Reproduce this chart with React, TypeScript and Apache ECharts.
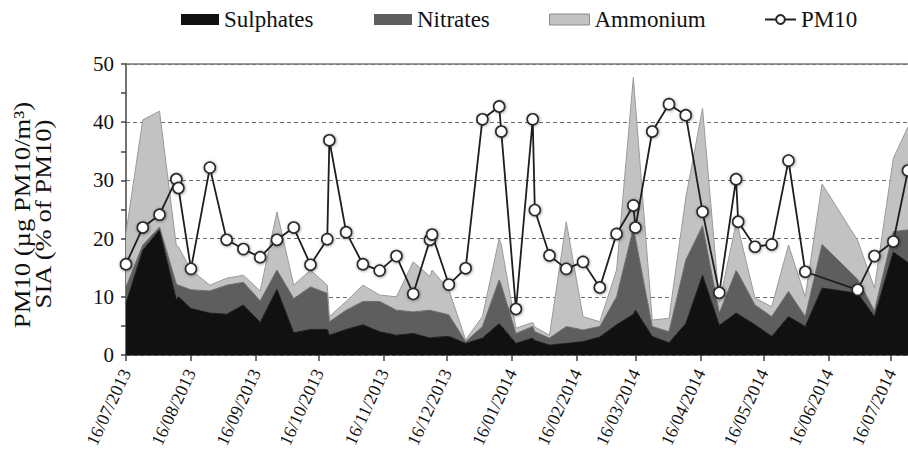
import React, { useEffect, useRef } from 'react';
import * as echarts from 'echarts';

const sampleDates = [
  '2013-07-16','2013-07-24','2013-08-01','2013-08-09','2013-08-10','2013-08-16','2013-08-25','2013-09-02','2013-09-10','2013-09-18',
  '2013-09-26','2013-10-04','2013-10-12','2013-10-20','2013-10-21','2013-10-29','2013-11-06','2013-11-14','2013-11-22','2013-11-30',
  '2013-12-08','2013-12-09','2013-12-17','2013-12-25','2014-01-02','2014-01-10','2014-01-11','2014-01-18','2014-01-26','2014-01-27',
  '2014-02-03','2014-02-11','2014-02-19','2014-02-27','2014-03-07','2014-03-15','2014-03-16','2014-03-24','2014-04-01','2014-04-09',
  '2014-04-17','2014-04-25','2014-05-03','2014-05-04','2014-05-12','2014-05-20','2014-05-28','2014-06-05','2014-06-13','2014-06-30',
  '2014-07-08','2014-07-17','2014-07-24'
];

const sulphates = [
  8.9, 18.0, 21.5, 9.5, 10.0, 8.0, 7.2, 7.0, 8.6, 5.6,
  11.3, 3.8, 4.4, 4.4, 3.4, 4.4, 5.2, 4.0, 3.4, 3.7,
  2.9, 3.0, 3.2, 2.0, 2.9, 5.4, 5.0, 2.0, 2.9, 2.5,
  1.7, 2.0, 2.3, 3.1, 5.2, 7.0, 7.7, 3.2, 2.1, 5.4,
  13.7, 5.1, 7.2, 7.0, 5.2, 3.2, 6.6, 4.9, 11.5, 10.6,
  6.6, 17.7, 15.9
];

const nitrates = [
  2.8, 0.9, 0.5, 2.7, 2.0, 3.2, 3.8, 5.0, 3.9, 3.7,
  3.3, 5.9, 7.3, 6.2, 2.3, 3.3, 4.0, 5.2, 4.3, 3.7,
  4.8, 4.6, 3.7, 0.3, 2.0, 7.5, 7.0, 1.7, 2.0, 1.5,
  1.2, 2.9, 2.0, 1.8, 4.8, 14.8, 12.3, 1.7, 1.9, 10.9,
  8.5, 2.1, 7.3, 7.0, 3.4, 3.4, 4.3, 1.7, 7.5, 2.4,
  1.0, 3.5, 5.6
];

const ammonium = [
  9.3, 21.5, 19.9, 6.6, 6.6, 3.4, 1.0, 1.2, 1.2, 1.7,
  10.0, 2.3, 2.9, 1.4, 0.9, 1.5, 2.8, 1.1, 2.3, 8.6,
  5.8, 7.0, 4.3, 0.3, 1.7, 7.1, 7.0, 0.9, 0.7, 0.8,
  0.5, 18.0, 2.3, 0.8, 4.6, 25.9, 23.0, 1.1, 2.3, 10.7,
  20.2, 1.8, 8.1, 7.8, 1.2, 1.7, 8.0, 3.4, 10.4, 6.7,
  3.9, 12.6, 17.7
];

const pm10: (number | null)[] = [
  15.6, 21.9, 24.1, 30.2, 28.7, 14.8, 32.2, 19.8, 18.2, 16.8,
  19.8, 21.9, 15.5, 19.9, 36.9, 21.1, 15.6, 14.5, 17.0, 10.5,
  19.8, 20.7, 12.1, 14.9, 40.5, 42.7, 38.4, 7.9, 40.5, 24.9,
  17.1, 14.8, 16.0, 11.6, 20.8, 25.7, 21.9, 38.4, 43.1, 41.2,
  24.6, 10.7, 30.2, 22.9, 18.6, 19.0, 33.4, 14.3, null, 11.2,
  17.0, 19.5, 31.7
];

const tickLabels = [
  '16/07/2013','16/08/2013','16/09/2013','16/10/2013','16/11/2013','16/12/2013',
  '16/01/2014','16/02/2014','16/03/2014','16/04/2014','16/05/2014','16/06/2014','16/07/2014'
];

const yTitleLines = ['PM10 (µg PM10/m³)', 'SIA (% of PM10)'];

const axisStart = '2013-07-16';
const axisEnd = '2014-07-24';

const FONT = "'Liberation Serif', 'Times New Roman', serif";

const parseIso = (s: string) => {
  const [y, m, d] = s.split('-').map(Number);
  return Date.UTC(y, m - 1, d);
};
const parseDmy = (s: string) => {
  const [d, m, y] = s.split('/').map(Number);
  return Date.UTC(y, m - 1, d);
};

export default function App() {
  const ref = useRef<HTMLDivElement>(null);

  useEffect(() => {
    const chart = echarts.init(ref.current!, null, { renderer: 'svg' });
    const times = sampleDates.map(parseIso);
    const tickValues = tickLabels.map(parseDmy);
    const labelFor = (v: number) => {
      const i = tickValues.findIndex((t) => Math.abs(t - v) < 3600000);
      return i >= 0 ? tickLabels[i] : '';
    };
    const mk = (arr: (number | null)[]) => times.map((t, i) => [t, arr[i]]);
    const tMin = parseIso(axisStart);
    const tMax = parseIso(axisEnd);

    const areaSeries = (name: string, arr: number[], fill: string, edge: string) => ({
      name,
      type: 'line',
      stack: 'sia',
      xAxisIndex: 0,
      data: mk(arr),
      symbol: 'none',
      showSymbol: false,
      lineStyle: { width: 1, color: edge },
      itemStyle: { color: fill },
      areaStyle: { color: fill, opacity: 1 },
      z: 2,
    });

    const legendText = { fontSize: 23, color: '#111', fontFamily: FONT };
    const oneLegend = (left: number, item: any, w: number) => ({
      top: 3,
      left,
      itemWidth: w,
      itemHeight: 11,
      itemGap: 4,
      textStyle: legendText,
      data: [item],
    });

    const yTitle = (text: string, x: number, y: number) => ({
      type: 'text',
      x,
      y,
      rotation: Math.PI / 2,
      scaleX: 1.16,
      scaleY: 1,
      style: {
        text,
        fontSize: 23,
        fontFamily: FONT,
        fill: '#111',
        align: 'center',
        verticalAlign: 'middle',
      },
    });

    chart.setOption({
      animation: false,
      backgroundColor: '#ffffff',
      textStyle: { fontFamily: FONT },
      grid: { left: 126, right: 0, top: 64, bottom: 95, outerBoundsMode: 'none' },
      graphic: [
        yTitle(yTitleLines[0], 22, 215),
        yTitle(yTitleLines[1], 43, 214),
      ],
      legend: [
        oneLegend(176, { name: 'Sulphates', icon: 'rect', itemStyle: { color: '#111111' } }, 38),
        oneLegend(369, { name: 'Nitrates', icon: 'rect', itemStyle: { color: '#5e5e5e' } }, 38),
        oneLegend(544, { name: 'Ammonium', icon: 'rect', itemStyle: { color: '#c2c2c2', borderColor: '#8a8a8a', borderWidth: 1 } }, 40),
        oneLegend(759, { name: 'PM10' }, 31),
      ],
      xAxis: [
        {
          type: 'time',
          min: tMin,
          max: tMax,
          position: 'bottom',
          axisLine: { show: true, lineStyle: { color: '#444', width: 1.5 } },
          axisTick: { show: false },
          axisLabel: { show: false },
          splitLine: { show: false },
        },
        {
          type: 'value',
          min: tMin,
          max: tMax,
          position: 'bottom',
          axisLine: { show: false },
          axisTick: { show: true, customValues: tickValues, length: 6, lineStyle: { color: '#444', width: 1.5 } },
          axisLabel: {
            customValues: tickValues,
            formatter: (v: number) => labelFor(v),
            rotate: 65,
            fontSize: 18,
            color: '#111',
            margin: 15,
            fontFamily: FONT,
          },
          splitLine: { show: false },
        },
        {
          type: 'value',
          min: tMin,
          max: tMax,
          position: 'top',
          axisLine: { show: true, lineStyle: { color: '#777', width: 1.5 } },
          axisTick: { show: false },
          axisLabel: { show: false },
          splitLine: { show: false },
        },
      ],
      yAxis: {
        type: 'value',
        min: 0,
        max: 50,
        interval: 10,
        axisLine: { show: true, lineStyle: { color: '#444', width: 1.5 } },
        axisTick: { show: true, length: 5, lineStyle: { color: '#444', width: 1.5 } },
        minorTick: { show: true, splitNumber: 2, length: 5, lineStyle: { color: '#444', width: 1.5 } },
        axisLabel: { fontSize: 21, color: '#111', margin: 12, fontFamily: FONT },
        splitLine: { show: true, lineStyle: { color: '#6e6e6e', type: [4, 3], width: 1.2 } },
      },
      series: [
        areaSeries('Sulphates', sulphates, '#111111', '#1a1a1a'),
        areaSeries('Nitrates', nitrates, '#5e5e5e', '#6a6a6a'),
        areaSeries('Ammonium', ammonium, '#c2c2c2', '#9a9a9a'),
        {
          name: 'PM10',
          type: 'line',
          xAxisIndex: 0,
          data: mk(pm10),
          connectNulls: true,
          symbol: 'circle',
          symbolSize: 11,
          showSymbol: true,
          lineStyle: { color: '#1e1e1e', width: 1.8 },
          itemStyle: {
            color: '#ffffff',
            borderColor: '#2a2a2a',
            borderWidth: 1.6,
            shadowBlur: 3,
            shadowColor: 'rgba(0,0,0,0.45)',
            shadowOffsetX: 0.5,
            shadowOffsetY: 0.5,
          },
          z: 5,
        },
      ],
    });

    return () => chart.dispose();
  }, []);

  return (
    <div
      ref={ref}
      style={{ position: 'fixed', left: 0, top: 0, width: 908, height: 450 }}
    />
  );
}
